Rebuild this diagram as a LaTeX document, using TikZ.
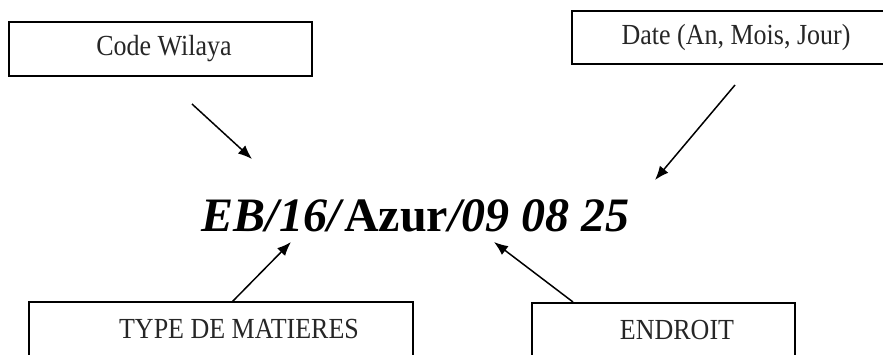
\documentclass[tikz,border=0pt]{standalone}
\usepackage{fontspec}
\setmainfont{Liberation Serif}
\usetikzlibrary{arrows.meta}
\begin{document}
\begin{tikzpicture}[x=1pt,y=-1pt,
  labelbox/.style={draw=black, line width=1.6pt, rectangle, inner sep=0pt,
    font=\fontsize{26}{30}\selectfont, text=black!85},
  conn/.style={line width=1.5pt, -{Latex[length=14pt,width=11pt]}}]
\useasboundingbox (0,0) rectangle (883,354);
\clip (0,0) rectangle (883,354);
\fill[white] (0,0) rectangle (883,354);
% boxes
\node[labelbox, minimum width=303pt, minimum height=54pt] (cw) at (160.5,49) {\hspace*{7pt}\scalebox{1}[1.12]{Code Wilaya}};
\node[labelbox, minimum width=328pt, minimum height=53pt] (dt) at (736,37.5) {\scalebox{1}[1.12]{Date (An, Mois, Jour)}};
\node[labelbox, minimum width=384pt, minimum height=54pt] (tm) at (221,329) {\hspace*{36pt}\scalebox{1}[1.12]{TYPE DE MATIERES}};
\node[labelbox, minimum width=263pt, minimum height=54pt] (en) at (663.5,330) {\hspace*{27pt}\scalebox{1}[1.12]{ENDROIT}};
% main code
\node[anchor=base, inner sep=0pt, font=\fontsize{48}{52}\selectfont\bfseries] (code) at (415.5,231)
  {\textit{EB/16/}Azur\textit{/09 08 25}};
% connector ends
\coordinate (cwS) at (192,104);
\coordinate (cwE) at (252,159);
\coordinate (dtS) at (735,85);
\coordinate (dtE) at (655,180);
\coordinate (tmS) at (232,302);
\coordinate (tmE) at (291,242);
\coordinate (enS) at (573,302);
\coordinate (enE) at (494,242);
\draw[conn] (cwS) -- (cwE);
\draw[conn] (dtS) -- (dtE);
\draw[conn] (tmS) -- (tmE);
\draw[conn] (enS) -- (enE);
\end{tikzpicture}
\end{document}
